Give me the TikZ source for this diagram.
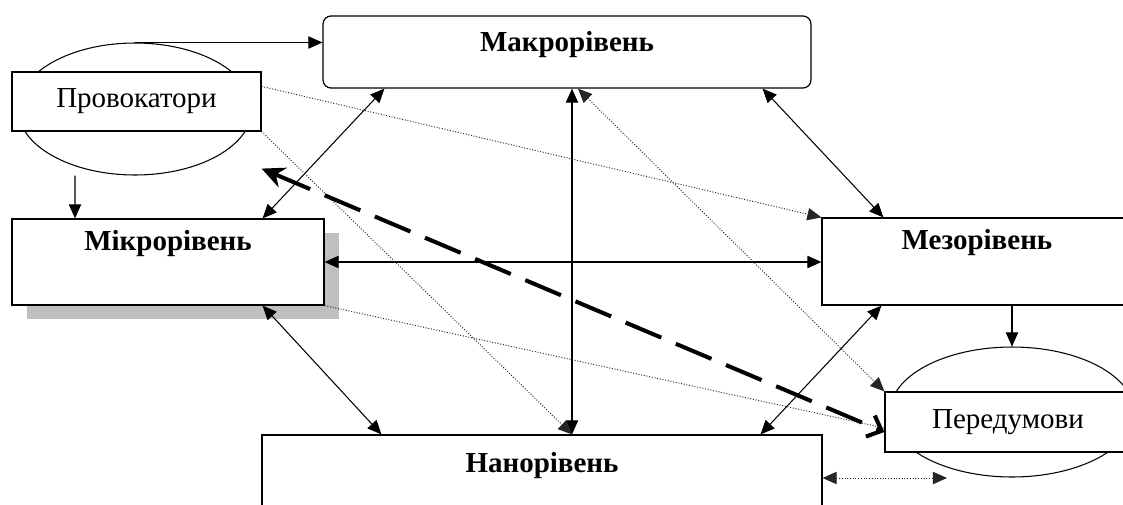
\documentclass[tikz,border=0pt]{standalone}
\usepackage{fontspec}
\setmainfont{Liberation Serif}
\usetikzlibrary{arrows.meta,shapes.geometric,shadows,positioning}
\tikzset{
  levelbox/.style={draw, line width=0.7pt, fill=white, inner sep=0pt},
  levelname/.style={font=\fontsize{16.5}{19}\selectfont\bfseries, inner sep=0pt},
  sidebox/.style={levelbox, font=\fontsize{16.5}{19}\selectfont},
  sideoval/.style={draw, ellipse, line width=0.6pt, inner sep=0pt},
  faint/.style={densely dotted, line width=0.55pt, black!85},
  bigdash/.style={line width=2.3pt, dash pattern=on 22pt off 9pt,
    {Stealth[length=13pt,width=12pt]}-{Straight Barb[length=7pt,width=13pt]}}
}
\begin{document}
\begin{tikzpicture}[x=0.02cm, y=-0.02cm, line width=0.6pt,
  >={Triangle[length=8pt,width=7pt]}]
\clip (0,0) rectangle (1123,504);
% side ovals
\node (provoell) [sideoval, minimum width=4.68cm, minimum height=2.64cm] at (135,109) {};
\node (predell) [sideoval, minimum width=4.88cm, minimum height=2.6cm] at (1012,412) {};
\node (provo) [sidebox, minimum width=4.98cm, minimum height=1.18cm] at (136.5,101.5) {Провокатори};
\node (pred) [sidebox, minimum width=4.92cm, minimum height=1.2cm] at (1008,422) {Передумови};
% levels
\node (macro) [levelbox, rounded corners=0.16cm, minimum width=9.76cm, minimum height=1.44cm] at (567,52) {};
\node (macrotxt) [levelname] at (567,45) {Макрорівень};
\node (micro) [levelbox, minimum width=6.24cm, minimum height=1.72cm,
  drop shadow={shadow xshift=0.3cm, shadow yshift=-0.28cm, fill=black!25, opacity=1}] at (168,262) {};
\node (microtxt) [levelname] at (168,244) {Мікрорівень};
\node (meso) [levelbox, minimum width=6.2cm, minimum height=1.74cm] at (977,261.5) {};
\node (mesotxt) [levelname] at (977,243) {Мезорівень};
\node (nano) [levelbox, minimum width=11.2cm, minimum height=1.72cm] at (542,478) {};
\node (nanotxt) [levelname] at (542,466) {Нанорівень};
\coordinate (predfoot) at ([xshift=-1.3cm]predell.south);
% links
\draw[->] (provoell.north) -- (provoell.north -| macro.west);
\draw[->] ([xshift=-1.2cm]provoell.south) -- ([xshift=-1.86cm]micro.north);
\draw[<->] ([xshift=-1.24cm]micro.north east) -- ([xshift=1.24cm]macro.south west);
\draw[<->] (micro.east) -- (micro.east -| meso.west);
\draw[<->] ([xshift=-1.24cm]micro.south east) -- ([xshift=2.4cm]nano.north west);
\draw[<->] ([xshift=0.1cm]macro.south) -- ([xshift=0.1cm]macro.south |- nano.north);
\draw[<->] ([xshift=-0.98cm]macro.south east) -- ([xshift=1.24cm]meso.north west);
\draw[<->] ([xshift=1.2cm]meso.south west) -- ([xshift=-1.24cm]nano.north east);
\draw[->] (predell.north |- meso.south) -- (predell.north);
\draw[faint, ->] ([yshift=-0.3cm]provo.north east) -- (meso.north west);
\draw[faint, ->] (provo.south east) -- ([xshift=0.1cm]macro.south |- nano.north);
\draw[faint, <->] ([xshift=0.22cm]macro.south) -- (pred.north west);
\draw[faint] (micro.south east) -- ([yshift=-0.12cm]pred.west);
\draw[faint, <->] (nano.east) -- (nano.east -| predfoot);
\draw[bigdash] ([yshift=-0.74cm]provo.south east) -- ([yshift=-0.2cm]pred.west);
\end{tikzpicture}
\end{document}
